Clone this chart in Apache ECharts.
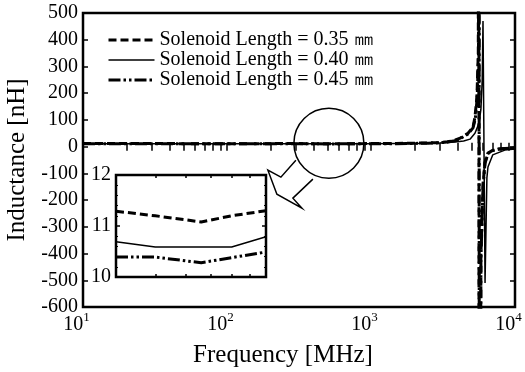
<!DOCTYPE html>
<html>
<head>
<meta charset="utf-8">
<script src="https://cdn.jsdelivr.net/npm/echarts@6/dist/echarts.min.js"></script>
<style>
  html, body { margin: 0; padding: 0; background: #fff; }
  #chart { width: 525px; height: 372px; }
</style>
</head>
<body>
<div id="chart"></div>
<script>
var seriesNames = ["Solenoid Length = 0.35 ㎜", "Solenoid Length = 0.40 ㎜", "Solenoid Length = 0.45 ㎜"];

// main plot, frequency in MHz, inductance in nH
var freq35 = [10, 30, 100, 300, 400, 560, 700, 900, 1500, 2000, 2500, 3000, 3400, 3830, 4200, 4720, 5110, 5270, 5440, 5560, 5610, 5630, 5800, 6000, 6190, 6490, 7000, 7640, 8500, 10000];
var ind35 = [11.4, 11.3, 11.2, 11.3, 11.2, 11.08, 11.18, 11.3, 12, 13, 14, 15, 18, 24, 33, 50, 73, 110, 186, 350, 3000, -3000, -400, -140, -58, -24, -14, -9, -7, -5];

var freq40 = [10, 30, 100, 300, 400, 560, 700, 900, 1500, 2000, 2500, 3000, 3830, 4400, 4870, 5270, 5620, 5800, 5920, 5995, 6194, 6380, 6490, 7000, 8500, 10000];
var ind40 = [10.8, 10.75, 10.7, 10.71, 10.58, 10.58, 10.58, 10.79, 11.3, 11.8, 12.6, 13.5, 17, 21, 28, 50, 87, 140, 250, 470, -510, -117, -76, -31, -13, -9];

var freq45 = [10, 30, 100, 300, 400, 560, 700, 900, 1500, 2000, 2500, 3000, 3400, 3830, 4200, 4720, 5110, 5300, 5460, 5580, 5630, 5650, 5800, 6000, 6190, 6490, 7000, 7640, 8500, 10000];
var ind45 = [10.5, 10.45, 10.4, 10.39, 10.39, 10.28, 10.38, 10.48, 11, 12, 13, 14.5, 17, 22, 31, 47, 70, 105, 180, 340, 3000, -3000, -420, -150, -62, -26, -15, -10, -7, -5];

// inset (zoom of the circled part)
var insetFreq = [300, 400, 560, 700, 900];
var inset35 = [11.29, 11.2, 11.08, 11.2, 11.3];
var inset40 = [10.69, 10.59, 10.59, 10.59, 10.79];
var inset45 = [10.39, 10.39, 10.28, 10.38, 10.49];

var xTickValues = [10, 20, 30, 40, 50, 60, 70, 80, 90, 100, 200, 300, 400, 500, 600, 700, 800, 900, 1000, 2000, 3000, 4000, 5000, 6000, 7000, 8000, 9000, 10000];
var xLabelValues = [10, 100, 1000, 10000];
var insetTickValues = [400, 500, 600, 700, 800];
var circleCenter = [510, 13];

var serif = "'Liberation Serif', 'Times New Roman', serif";

function pairs(xs, ys) {
  return xs.map(function (x, i) { return [x, ys[i]]; });
}

var styles = [
  { type: [8, 4], width: 3 },
  { type: "solid", width: 1.5 },
  { type: [12, 3, 2.5, 3, 2.5, 3], width: 3 }
];

var chart = echarts.init(document.getElementById("chart"));

function tickAxis(extra) {
  var base = {
    axisLine: { show: false },
    splitLine: { show: false },
    axisTick: { inside: true, length: 4, lineStyle: { color: "#000", width: 1.5 } },
    axisLabel: { show: false }
  };
  return Object.assign(base, extra);
}

function lineSeries(i, xIdx, yIdx, data) {
  return {
    name: seriesNames[i], type: "line", xAxisIndex: xIdx, yAxisIndex: yIdx,
    symbol: "none", data: data,
    itemStyle: { color: "#000" },
    lineStyle: { color: "#000", type: styles[i].type, width: styles[i].width }
  };
}

var option = {
  animation: false,
  backgroundColor: "#fff",
  textStyle: { fontFamily: serif, color: "#000" },
  legend: {
    orient: "vertical",
    left: 107,
    top: 30,
    padding: 0,
    itemWidth: 46,
    itemHeight: 10,
    itemGap: 0,
    data: seriesNames.map(function (n, i) {
      return { name: n, lineStyle: { width: styles[i].width, type: styles[i].type, color: "#000" } };
    }),
    itemStyle: { opacity: 0 },
    textStyle: { fontSize: 20, fontFamily: serif, color: "#000", lineHeight: 19 }
  },
  grid: [
    { left: 83, right: 10, top: 13, bottom: 65, outerBoundsMode: "none", show: true, borderColor: "#000", borderWidth: 2.5, backgroundColor: "transparent" },
    { left: 116, top: 175, width: 150, height: 102, outerBoundsMode: "none", show: true, borderColor: "#000", borderWidth: 2.5, backgroundColor: "#fff" }
  ],
  xAxis: [
    tickAxis({
      type: "log", logBase: 10, gridIndex: 0, min: 10, max: 10000, position: "bottom",
      axisTick: { inside: true, length: 4, customValues: xTickValues, lineStyle: { color: "#000", width: 1.5 } },
      axisLabel: {
        show: true, customValues: xLabelValues, margin: 4, color: "#000",
        formatter: function (v) {
          var e = Math.round(Math.log10(v));
          return "{b|10}{s|" + e + "}{p| }";
        },
        rich: {
          b: { fontSize: 20, fontFamily: serif, lineHeight: 24, verticalAlign: "bottom", color: "#000" },
          s: { fontSize: 13, fontFamily: serif, lineHeight: 13, verticalAlign: "top", color: "#000" },
          p: { fontSize: 13, width: 13 }
        }
      },
      name: "Frequency [MHz]", nameLocation: "middle", nameGap: 36,
      nameTextStyle: { fontSize: 25, fontFamily: serif, color: "#000", padding: [0, 32, 0, 0] }
    }),
    tickAxis({
      type: "log", logBase: 10, gridIndex: 0, min: 10, max: 10000, position: "top",
      axisTick: { inside: true, length: 4, customValues: xTickValues, lineStyle: { color: "#000", width: 1.5 } }
    }),
    tickAxis({
      type: "log", logBase: 10, gridIndex: 1, min: 300, max: 900, position: "bottom",
      axisTick: { inside: true, length: 3, customValues: insetTickValues, lineStyle: { color: "#000", width: 1.5 } }
    }),
    tickAxis({
      type: "log", logBase: 10, gridIndex: 1, min: 300, max: 900, position: "top",
      axisTick: { inside: true, length: 3, customValues: insetTickValues, lineStyle: { color: "#000", width: 1.5 } }
    })
  ],
  yAxis: [
    tickAxis({
      type: "value", gridIndex: 0, min: -600, max: 500, interval: 100, position: "left",
      axisTick: { inside: true, length: 5, lineStyle: { color: "#000", width: 1.5 } },
      axisLabel: { show: true, fontSize: 20, fontFamily: serif, color: "#000", margin: 5 },
      name: "Inductance [nH]", nameLocation: "middle", nameGap: 53,
      nameTextStyle: { fontSize: 25, fontFamily: serif, color: "#000" }
    }),
    tickAxis({
      type: "value", gridIndex: 0, min: -600, max: 500, interval: 100, position: "right",
      axisTick: { inside: true, length: 5, lineStyle: { color: "#000", width: 1.5 } }
    }),
    tickAxis({
      type: "value", gridIndex: 1, min: 10, max: 12, interval: 1, position: "left",
      axisTick: { inside: true, length: 4, lineStyle: { color: "#000", width: 1.5 } },
      minorTick: { show: true, splitNumber: 5, length: 2, lineStyle: { color: "#000", width: 1 } },
      axisLabel: { show: true, fontSize: 20, fontFamily: serif, color: "#000", margin: 5 }
    }),
    tickAxis({
      type: "value", gridIndex: 1, min: 10, max: 12, interval: 1, position: "right",
      axisTick: { inside: true, length: 4, lineStyle: { color: "#000", width: 1.5 } },
      minorTick: { show: true, splitNumber: 5, length: 2, lineStyle: { color: "#000", width: 1 } }
    })
  ],
  series: [
    lineSeries(0, 0, 0, pairs(freq35, ind35)),
    lineSeries(1, 0, 0, pairs(freq40, ind40)),
    lineSeries(2, 0, 0, pairs(freq45, ind45)),
    lineSeries(0, 2, 2, pairs(insetFreq, inset35)),
    lineSeries(1, 2, 2, pairs(insetFreq, inset40)),
    lineSeries(2, 2, 2, pairs(insetFreq, inset45))
  ]
};
chart.setOption(option);

// circle around the zoomed region + hollow arrow towards the inset
var c = chart.convertToPixel({ xAxisIndex: 0, yAxisIndex: 0 }, circleCenter);
var arrowOffsets = [[-33, 17], [-48, 34], [-61, 27], [-52, 51], [-27, 65], [-36, 55], [-16, 36]];
chart.setOption({
  graphic: [
    { type: "circle", z: 100, shape: { cx: c[0], cy: c[1], r: 35 }, style: { fill: "none", stroke: "#000", lineWidth: 1.5 } },
    { type: "polyline", z: 100, shape: { points: arrowOffsets.map(function (p) { return [c[0] + p[0], c[1] + p[1]]; }) }, style: { fill: "none", stroke: "#000", lineWidth: 1.5 } }
  ]
});
</script>
</body>
</html>
